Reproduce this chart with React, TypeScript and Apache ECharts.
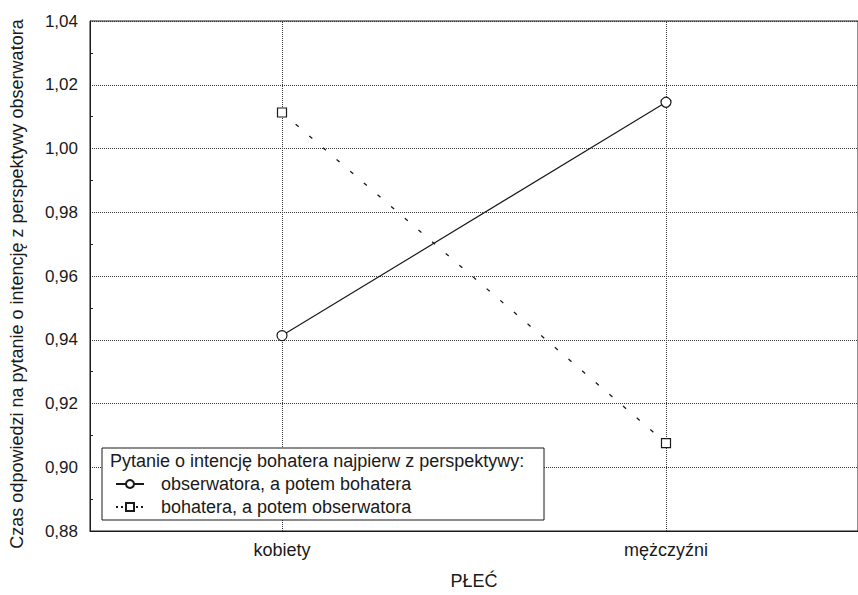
import React, { useEffect, useRef } from "react";
import * as echarts from "echarts";

const categories = ["kobiety", "mężczyźni"];
const seriesObserwatora = [0.9413, 1.0145];
const seriesBohatera = [1.0113, 0.9076];
const legendNames = ["obserwatora, a potem bohatera", "bohatera, a potem obserwatora"];
const legendTitle = "Pytanie o intencję bohatera najpierw z perspektywy:";
const yTitle = "Czas odpowiedzi na pytanie o intencję z perspektywy obserwatora";
const xTitle = "PŁEĆ";
const yMin = 0.88;
const yMax = 1.04;
const yInterval = 0.02;

const FONT = "'Liberation Sans', Arial, sans-serif";
const INK = "#1a1a1a";

export default function App() {
  const ref = useRef<HTMLDivElement>(null);
  useEffect(() => {
    if (!ref.current) return;
    const chart = echarts.init(ref.current, null, { renderer: "svg" });
    chart.setOption({
      animation: false,
      backgroundColor: "#fff",
      textStyle: { fontFamily: FONT },
      grid: {
        left: 90,
        right: -10,
        top: 21,
        bottom: 61,
        show: true,
        borderColor: INK,
        borderWidth: 1,
        backgroundColor: "transparent",
      },
      xAxis: {
        type: "category",
        data: categories,
        boundaryGap: true,
        name: xTitle,
        nameLocation: "middle",
        nameGap: 41,
        nameTextStyle: { fontFamily: FONT, fontSize: 18, color: INK },
        axisLine: { show: true, lineStyle: { color: INK, width: 1 } },
        axisTick: { show: false },
        splitLine: { show: false },
        axisLabel: { fontFamily: FONT, fontSize: 18, color: INK, margin: 10 },
      },
      yAxis: {
        type: "value",
        min: yMin,
        max: yMax,
        interval: yInterval,
        name: yTitle,
        nameLocation: "middle",
        nameGap: 64,
        nameTextStyle: { fontFamily: FONT, fontSize: 18, color: INK, padding: [0, 16, 0, 0] },
        axisLine: { show: true, lineStyle: { color: INK, width: 1 } },
        axisTick: { show: false, inside: true },
        minorTick: { show: true, splitNumber: 2, length: 3, lineStyle: { color: INK } },
        splitLine: { show: true, lineStyle: { color: "#333", type: [1, 1], width: 1 } },
        axisLabel: {
          fontFamily: FONT,
          fontSize: 17,
          color: INK,
          margin: 12,
          formatter: (v: number) => v.toFixed(2).replace(".", ","),
        },
      },
      legend: {
        show: true,
        orient: "vertical",
        left: 115,
        top: 475,
        padding: 0,
        itemWidth: 28,
        itemHeight: 10,
        itemGap: 5,
        z: 10,
        data: [
          { name: legendNames[0] },
          { name: legendNames[1], lineStyle: { type: [2, 3] } },
        ],
        textStyle: { fontFamily: FONT, fontSize: 18, color: INK, padding: [0, 0, 0, 12] },
      },
      graphic: [
        {
          type: "rect",
          z: 5,
          shape: { x: 102, y: 448, width: 442, height: 72 },
          style: { fill: "#fff", stroke: INK, lineWidth: 1 },
        },
        {
          type: "text",
          z: 6,
          left: 110,
          top: 452,
          style: { text: legendTitle, font: `18px ${FONT}`, fill: INK },
        },
      ],
      series: [
        {
          name: legendNames[0],
          type: "line",
          data: seriesObserwatora,
          symbol: "circle",
          symbolSize: 10,
          lineStyle: { color: INK, width: 1.2, type: "solid" },
          itemStyle: { color: "#fff", borderColor: INK, borderWidth: 1.2 },
          z: 3,
          markLine: {
            silent: true,
            symbol: "none",
            label: { show: false },
            lineStyle: { color: "#333", type: [1, 1], width: 1 },
            data: categories.map((c) => ({ xAxis: c })),
            z: 1,
          },
        },
        {
          name: legendNames[1],
          type: "line",
          data: seriesBohatera,
          symbol: "rect",
          symbolSize: 9,
          lineStyle: { color: INK, width: 1.3, type: [4, 14] },
          itemStyle: { color: "#fff", borderColor: INK, borderWidth: 1.2 },
          z: 3,
        },
      ],
    });
    return () => chart.dispose();
  }, []);
  return <div ref={ref} style={{ width: 858, height: 595, position: "absolute", left: 0, top: 0 }} />;
}
